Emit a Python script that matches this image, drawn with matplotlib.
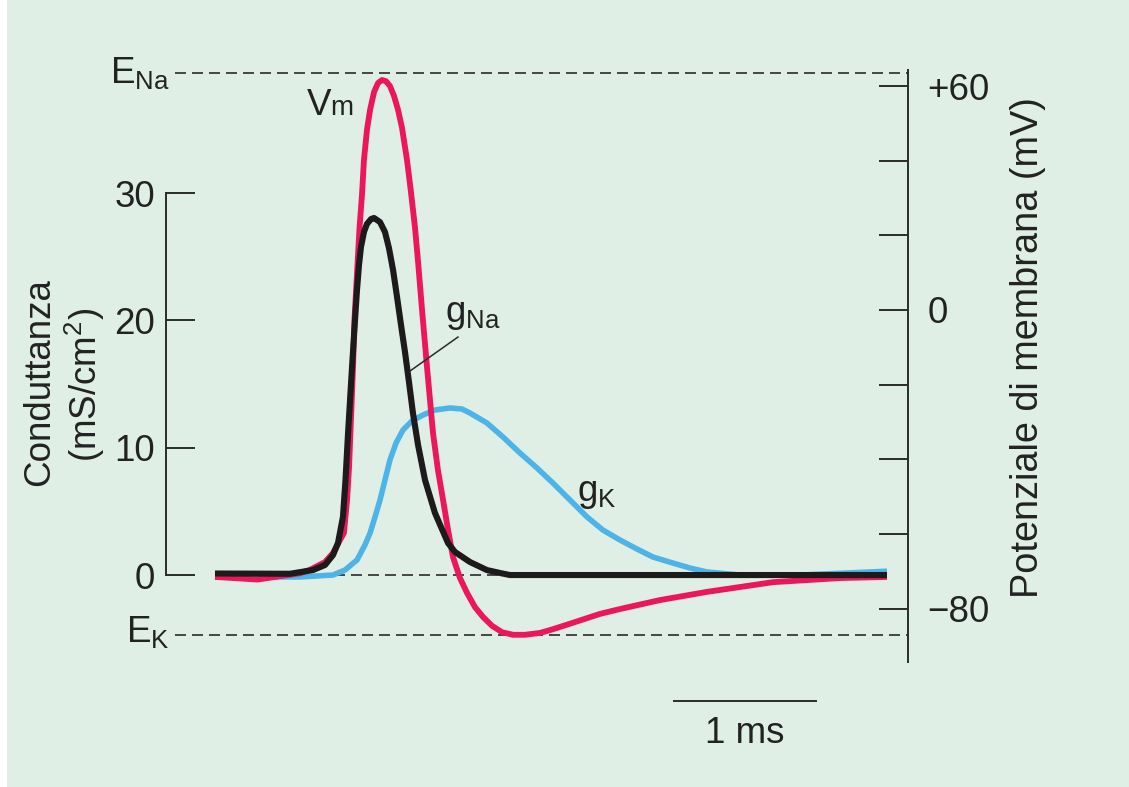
import numpy as np
import matplotlib
matplotlib.use("Agg")
import matplotlib.pyplot as plt

plt.rcParams['font.family'] = ['Liberation Sans', 'DejaVu Sans']
plt.rcParams['mathtext.fontset'] = 'custom'
plt.rcParams['mathtext.rm'] = 'Liberation Sans'
plt.rcParams['mathtext.it'] = 'Liberation Sans:italic'
plt.rcParams['mathtext.bf'] = 'Liberation Sans:bold'

# --- Data (time in ms) ---
# membrane potential (mV)
vm_t = [0.0, 0.3, 0.6, 0.669, 0.775, 0.831, 0.908, 0.930, 0.944, 0.972, 0.982,
        1.018, 1.035, 1.049, 1.070, 1.092, 1.120, 1.148, 1.176, 1.204, 1.232,
        1.261, 1.289, 1.317, 1.352, 1.380, 1.408, 1.430, 1.458, 1.493, 1.535,
        1.570, 1.606, 1.641, 1.676, 1.725, 1.775, 1.831, 1.887, 1.951, 2.021,
        2.099, 2.183, 2.289, 2.380, 2.535, 2.711, 2.852, 3.134, 3.465, 3.930,
        4.401, 4.732]
vm = [-71.5, -72.2, -70.5, -69.6, -67.5, -65.1, -59.7, -50.9, -42.1, -15.3, -2.7,
      22.2, 30.8, 40.2, 48.2, 53.6, 58.4, 60.8, 61.6, 61.3, 60.0,
      57.3, 53.6, 48.8, 40.2, 31.6, 22.2, 12.9, 0.0, -15.3, -32.9,
      -42.9, -50.9, -58.9, -66.2, -71.8, -75.8, -79.6, -82.2, -84.6, -86.3,
      -87.0, -87.0, -86.5, -85.5, -83.6, -81.4, -80.1, -77.7, -75.5, -72.9,
      -71.8, -71.5]

# sodium conductance (mS/cm2)
gna_t = [0.0, 0.528, 0.690, 0.775, 0.831, 0.866, 0.901, 0.919, 0.937, 0.951,
         0.965, 0.986, 1.0, 1.014, 1.028, 1.049, 1.070, 1.099, 1.120, 1.162,
         1.197, 1.225, 1.254, 1.282, 1.310, 1.338, 1.366, 1.394, 1.430, 1.479,
         1.549, 1.641, 1.690, 1.796, 1.915, 2.007, 2.077, 4.732]
gna = [0.12, 0.1, 0.39, 0.79, 1.57, 2.51, 4.56, 7.46, 11.15, 13.74,
       16.34, 20.03, 22.38, 24.35, 25.76, 26.94, 27.57, 27.96, 28.04, 27.72,
       26.94, 25.68, 23.95, 21.83, 19.63, 17.51, 15.16, 12.72, 10.21, 7.46,
       4.87, 2.51, 1.81, 1.02, 0.39, 0.16, 0.0, 0.0]

# potassium conductance (mS/cm2)
gk_t = [0.0, 0.6, 0.831, 0.915, 1.0, 1.056, 1.092, 1.127, 1.162, 1.197, 1.232,
        1.275, 1.324, 1.387, 1.465, 1.549, 1.655, 1.739, 1.796, 1.915, 2.028,
        2.148, 2.268, 2.380, 2.500, 2.620, 2.732, 2.852, 2.972, 3.085, 3.225,
        3.345, 3.465, 3.697, 4.12, 4.732]
gk = [-0.15, -0.15, 0.0, 0.39, 1.18, 2.36, 3.30, 4.56, 5.89, 7.46, 9.03,
      10.37, 11.39, 12.10, 12.57, 12.96, 13.12, 13.04, 12.72, 11.94, 10.84,
      9.58, 8.40, 7.22, 5.89, 4.56, 3.53, 2.75, 2.04, 1.41, 0.94,
      0.55, 0.24, 0.0, 0.0, 0.3]

E_NA = 63.5   # mV
E_K = -87.0   # mV
g_ticks = [0, 10, 20, 30]
v_ticks = [60, 40, 20, 0, -20, -40, -60, -80]
v_labels = ['+60', '', '', '0', '', '', '', '\u221280']

# --- Style ---
BG = '#e0efe6'
RED = '#ec165c'
BLUE = '#4cb4e7'
BLACK = '#1c1a1a'
INK = '#2b2b2b'
TXT = '#222222'
FS = 26.5

fig = plt.figure(figsize=(11.29, 7.87), dpi=100, facecolor='white')
# green panel with thin white margin on the left
fig.add_artist(plt.Rectangle((7 / 1129, 0), 1 - 7 / 1129, 1, transform=fig.transFigure,
                             facecolor=BG, edgecolor='none', zorder=-10))
ax = fig.add_axes([0.14703, 0.15883, 0.65722, 0.76239])
ax2 = ax.twinx()
ax.set_facecolor('none')

ax.set_xlim(-0.345, 4.88)
ax.set_ylim(-6.83, 40.29)
ax2.set_ylim(-94.29, 66.43)

# reference dashed lines
dash = (0, (6.6, 3.6))
ax.plot([-0.282, 4.88], [E_NA, E_NA], transform=ax2.transData, color=INK,
        lw=1.2, ls=dash, clip_on=False, zorder=1)
ax.plot([-0.282, 4.88], [E_K, E_K], transform=ax2.transData, color=INK,
        lw=1.2, ls=dash, clip_on=False, zorder=1)
ax.plot([0, 4.73], [0, 0], color=INK, lw=1.2, ls=dash, zorder=1)

# curves
ax.plot(gk_t, gk, color=BLUE, lw=4.0, solid_joinstyle='round',
        solid_capstyle='butt', zorder=2)
ax.plot(vm_t, vm, color=RED, lw=4.2, solid_joinstyle='round',
        solid_capstyle='butt', zorder=3, transform=ax2.transData)
ax.plot(gna_t, gna, color=BLACK, lw=4.4, solid_joinstyle='round',
        solid_capstyle='butt', zorder=4)

# spines and ticks
for a in (ax, ax2):
    for s in ('top', 'bottom'):
        a.spines[s].set_visible(False)
    a.tick_params(axis='x', bottom=False, labelbottom=False)
ax.spines['right'].set_visible(False)
ax2.spines['left'].set_visible(False)
ax.spines['left'].set_bounds(0, 30)
ax.spines['left'].set_linewidth(1.4)
ax.spines['left'].set_color(INK)
ax2.spines['right'].set_bounds(-94.29, 64.3)
ax2.spines['right'].set_linewidth(1.4)
ax2.spines['right'].set_color(INK)

ax.set_yticks(g_ticks)
ax.set_yticklabels([str(v) for v in g_ticks])
ax.tick_params(axis='y', direction='in', length=21, width=1.4, pad=8,
               labelsize=FS, color=INK, labelcolor=TXT)
ax2.set_yticks(v_ticks)
ax2.set_yticklabels(v_labels)
ax2.tick_params(axis='y', direction='in', length=21, width=1.4, pad=14,
                labelsize=FS, color=INK, labelcolor=TXT)

# axis labels
fig.text(40 / 1129, 1 - 382 / 787, 'Conduttanza', rotation=90, ha='center',
         va='center', fontsize=FS, color=TXT)
fig.text(85 / 1129, 1 - 385 / 787, r'(mS/cm$^{\mathrm{2}}$)', rotation=90,
         ha='center', va='center', fontsize=FS, color=TXT)
fig.text(1028 / 1129, 1 - 348 / 787, 'Potenziale di membrana (mV)', rotation=90,
         ha='center', va='center', fontsize=27.3, color=TXT)

# curve labels
ax2.text(-0.317, 60.8, r'$\mathrm{E_{Na}}$', ha='right', va='baseline',
         fontsize=FS, color=TXT)
ax2.text(-0.317, -88.9, r'$\mathrm{E_{K}}$', ha='right', va='baseline',
         fontsize=FS, color=TXT)
ax2.text(0.648, 52.2, 'V', ha='left', va='baseline', fontsize=FS, color=TXT)
ax2.text(0.810, 52.2, 'm', ha='left', va='baseline', fontsize=20, color=TXT)
ax.text(1.62, 19.87, r'$\mathrm{g_{Na}}$', ha='left', va='baseline',
        fontsize=FS, color=TXT)
ax.text(2.549, 5.81, r'$\mathrm{g_{K}}$', ha='left', va='baseline',
        fontsize=FS, color=TXT)
ax.plot([1.711, 1.373], [18.69, 16.02], color=INK, lw=1.1, zorder=5)

# 1 ms scale bar
ax2.plot([3.232, 4.232], [-104.7, -104.7], color=INK, lw=1.4, clip_on=False)
ax2.text(3.732, -116.0, '1 ms', ha='center', va='baseline', fontsize=FS,
         color=TXT)

fig.savefig('out.png', dpi=100, facecolor='white')
